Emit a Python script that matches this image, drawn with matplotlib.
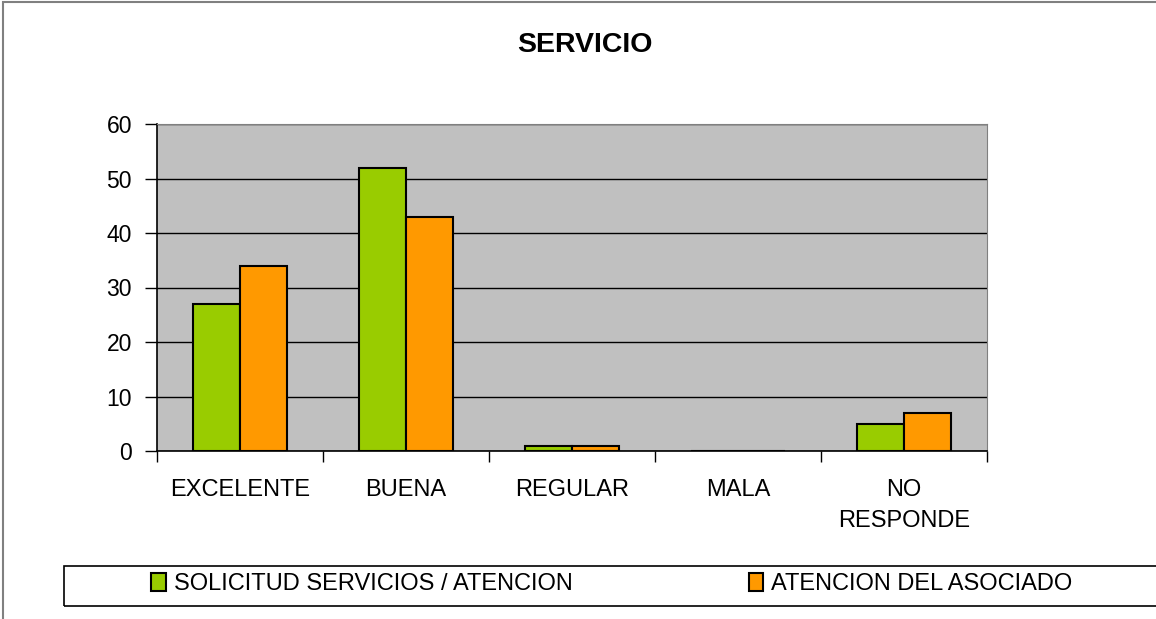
import numpy as np
import matplotlib
matplotlib.use('Agg')
import matplotlib.pyplot as plt
from matplotlib.patches import Rectangle

# Data
categorias = ['EXCELENTE', 'BUENA', 'REGULAR', 'MALA', 'NO\nRESPONDE']
solicitud = [27, 52, 1, 0, 5]
atencion = [34, 43, 1, 0, 7]
series_names = ['SOLICITUD SERVICIOS / ATENCION', 'ATENCION DEL ASOCIADO']

plt.rcParams['font.family'] = ['Liberation Sans', 'DejaVu Sans']

fig = plt.figure(figsize=(11.56, 6.19), dpi=100)
W, H = 1156, 619
ax = fig.add_axes([157 / W, 1 - 451 / H, (987 - 157) / W, (451 - 124) / H])
ax.set_facecolor('#C0C0C0')

x = np.arange(len(categorias))
bw = 1 / 3.5
b1 = ax.bar(x - bw / 2, solicitud, bw, color='#99CC00', edgecolor='black', linewidth=1.5, zorder=3,
            label=series_names[0])
b2 = ax.bar(x + bw / 2, atencion, bw, color='#FF9900', edgecolor='black', linewidth=1.5, zorder=3,
            label=series_names[1])

ax.set_xlim(-0.5, len(categorias) - 0.5)
ax.set_ylim(0, 60)
ax.set_yticks(range(0, 61, 10))
ax.yaxis.grid(True, color='black', linewidth=1.0, zorder=1)
ax.set_axisbelow(True)

# category boundaries as ticks, labels in middle
ax.set_xticks(np.arange(-0.5, len(categorias), 1.0))
ax.set_xticklabels([])
ax.set_xticks(x, minor=True)
ax.set_xticklabels(categorias, minor=True, fontsize=17, linespacing=1.55)
ax.tick_params(axis='x', which='major', length=8, width=1, direction='out', color='black')
ax.tick_params(axis='x', which='minor', length=0, pad=20)
ax.tick_params(axis='y', length=9, width=1, direction='out', pad=9, labelsize=16.5)

for side in ['top', 'right']:
    ax.spines[side].set_color('#808080')
ax.spines['left'].set_color('black')
ax.spines['bottom'].set_color('black')
ax.spines['left'].set_linewidth(1.2)
ax.spines['bottom'].set_linewidth(1.2)

fig.text(585 / W, 1 - 45 / H, 'SERVICIO', ha='center', va='center', fontsize=20.5, fontweight='bold')

# outer chart border
fig.patches.append(Rectangle((3 / W, -0.1), 1.2, 1 - 2 / H + 0.1, transform=fig.transFigure,
                             fill=False, edgecolor='#808080', linewidth=1.5))
# legend frame
fig.patches.append(Rectangle((64 / W, 1 - 606 / H), 1.2, 40 / H, transform=fig.transFigure,
                             fill=False, edgecolor='black', linewidth=1.2))
fig.legend(handles=[b1, b2], loc='center left', bbox_to_anchor=(142 / W, 1 - 584 / H), ncol=2,
           frameon=False, fontsize=17, handlelength=0.6, handleheight=0.8, handletextpad=0.35,
           columnspacing=7.45, borderaxespad=0)

fig.savefig('out.png', dpi=100)
